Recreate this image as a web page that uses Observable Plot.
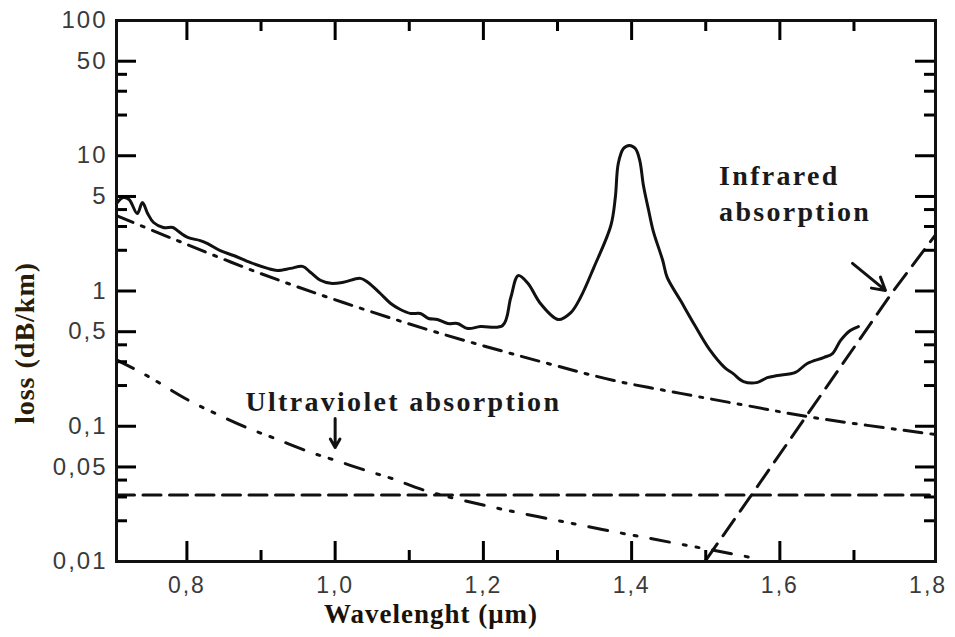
<!DOCTYPE html>
<html><head><meta charset="utf-8">
<script src="https://cdn.jsdelivr.net/npm/d3@7"></script>
<script src="https://cdn.jsdelivr.net/npm/@observablehq/plot@0.6"></script>
<style>html,body{margin:0;padding:0;background:#fff;}</style>
</head><body><div id="chart"></div>
<script>
// ---- data ----
const totalWl = [0.705,0.714,0.722,0.733,0.740,0.747,0.755,0.768,0.781,0.787,0.801,0.818,0.828,0.845,0.863,0.886,0.909,0.922,0.940,0.956,0.967,0.980,0.994,1.011,1.034,1.044,1.061,1.075,1.088,1.102,1.115,1.126,1.138,1.152,1.165,1.179,1.196,1.226,1.237,1.247,1.260,1.277,1.301,1.318,1.331,1.349,1.372,1.378,1.382,1.389,1.397,1.405,1.411,1.416,1.423,1.429,1.442,1.448,1.466,1.485,1.505,1.526,1.537,1.551,1.570,1.583,1.597,1.621,1.637,1.659,1.671,1.682,1.695,1.706];
const totalLoss = [4.44,4.91,4.75,3.74,4.51,3.74,3.21,2.95,2.95,2.80,2.49,2.36,2.24,1.99,1.83,1.62,1.47,1.42,1.47,1.52,1.37,1.20,1.14,1.16,1.24,1.16,0.958,0.808,0.730,0.682,0.682,0.626,0.616,0.575,0.575,0.528,0.546,0.556,0.895,1.30,1.14,0.808,0.616,0.693,0.895,1.49,3.05,4.91,8.76,11.3,11.9,11.3,9.22,6.0,3.94,2.80,1.68,1.26,0.85,0.56,0.37,0.27,0.245,0.214,0.211,0.229,0.237,0.250,0.291,0.322,0.345,0.431,0.510,0.545];

const rayleighWl = [0.705,0.787,0.899,1.011,1.138,1.287,1.376,1.466,1.556,1.645,1.81];
const rayleighLoss = [3.61,2.36,1.35,0.822,0.493,0.291,0.218,0.175,0.142,0.116,0.0869];

const uvWl = [0.705,0.744,0.801,0.836,0.882,0.917,0.964,1.000,1.042,1.077,1.125,1.209,1.250,1.296,1.337,1.384,1.425,1.470,1.514,1.569];
const uvLoss = [0.31,0.24,0.157,0.126,0.097,0.082,0.065,0.056,0.047,0.041,0.033,0.0255,0.0228,0.0203,0.0183,0.0163,0.0148,0.0133,0.0120,0.0105];

const irWl = [1.5,1.558,1.610,1.753,1.81];
const irLoss = [0.0102,0.029,0.0746,1.0,2.6];

const imperfWl = [0.705,1.81];
const imperfLoss = [0.031,0.031];

const xLabelTicks = [0.8,1.0,1.2,1.4,1.6,1.8];
const xMajorTicks = [0.8,1.0,1.2,1.4,1.6];
const xMinorTicks = [0.9,1.1,1.3,1.5,1.7];
const yLabelTicks = [100,50,10,5,1,0.5,0.1,0.05,0.01];
const yMajorTicks = [50,10,5,1,0.5,0.1,0.05];
const yMinorTicks = [40,30,20,4,3,2,0.4,0.3,0.2,0.04,0.03,0.02];

const annotText = ["Ultraviolet absorption","Infrared","absorption"];
const annotX = [0.879,1.518,1.518];
const annotY = [0.1307,6.03,3.32];

const arrowX1 = [1.0,1.698];
const arrowY1 = [0.114,1.60];
const arrowX2 = [1.0,1.7425];
const arrowY2 = [0.0697,1.01];

const xTitle = "Wavelenght (μm)";
const yTitle = "loss (dB/km)";

// ---- layout ----
const W = 955, H = 637, ML = 116, MR = 20, MT = 20, MB = 76;
const PW = W - ML - MR, PH = H - MT - MB;
const MAJ = 20, MIN = 11;
const ink = "#111";
const tickInk = "black";
const serif = "'Liberation Serif','Times New Roman',serif";

const zip = (xs, ys) => xs.map((x, i) => ({x, y: ys[i]}));
const total = zip(totalWl, totalLoss);
const rayleigh = zip(rayleighWl, rayleighLoss);
const uv = zip(uvWl, uvLoss);
const ir = zip(irWl, irLoss);
const imperf = zip(imperfWl, imperfLoss);
const annots = annotText.map((t, i) => ({t, x: annotX[i], y: annotY[i]}));
const arrows = arrowX1.map((x1, i) => ({x1, y1: arrowY1[i], x2: arrowX2[i], y2: arrowY2[i]}));

const plot = Plot.plot({
  width: W, height: H,
  marginLeft: ML, marginRight: MR, marginTop: MT, marginBottom: MB,
  style: {fontFamily: "'Liberation Sans', Arial, sans-serif", background: "#fff", overflow: "visible"},
  x: {domain: [0.705, 1.81], axis: null},
  y: {type: "log", domain: [0.01, 100], axis: null},
  marks: [
    Plot.line(imperf, {x: "x", y: "y", stroke: ink, strokeWidth: 3, strokeDasharray: "18,8.5"}),
    Plot.line(rayleigh, {x: "x", y: "y", stroke: ink, strokeWidth: 3, strokeDasharray: "18,9,3,9", curve: "catmull-rom"}),
    Plot.line(uv, {x: "x", y: "y", stroke: ink, strokeWidth: 3, strokeDasharray: "19,14,3,10,3,14", curve: "catmull-rom"}),
    Plot.line(ir, {x: "x", y: "y", stroke: ink, strokeWidth: 3, strokeDasharray: "20,10"}),
    Plot.line(total, {x: "x", y: "y", stroke: ink, strokeWidth: 3, curve: "catmull-rom"}),
    // inward ticks on all four sides
    Plot.ruleX(xMajorTicks, {x: d => d, insetTop: PH - MAJ, stroke: tickInk, strokeWidth: 3}),
    Plot.ruleX(xMinorTicks, {x: d => d, insetTop: PH - MIN, stroke: tickInk, strokeWidth: 3}),
    Plot.ruleX(xMajorTicks, {x: d => d, insetBottom: PH - MAJ, stroke: tickInk, strokeWidth: 3}),
    Plot.ruleX(xMinorTicks, {x: d => d, insetBottom: PH - MIN, stroke: tickInk, strokeWidth: 3}),
    Plot.ruleY(yMajorTicks, {y: d => d, insetRight: PW - MAJ, stroke: tickInk, strokeWidth: 3}),
    Plot.ruleY(yMinorTicks, {y: d => d, insetRight: PW - MIN, stroke: tickInk, strokeWidth: 3}),
    Plot.ruleY(yMajorTicks, {y: d => d, insetLeft: PW - MAJ, stroke: tickInk, strokeWidth: 3}),
    Plot.ruleY(yMinorTicks, {y: d => d, insetLeft: PW - MIN, stroke: tickInk, strokeWidth: 3}),
    Plot.frame({stroke: ink, strokeWidth: 3}),
    // tick labels
    Plot.text(xLabelTicks, {x: d => d, text: d => d.toFixed(1).replace(".", ","), frameAnchor: "bottom",
      lineAnchor: "top", dy: 15, fontSize: 23, fill: "#3a3a3a"}),
    Plot.text(yLabelTicks, {y: d => d, text: d => String(d).replace(".", ","), frameAnchor: "left",
      textAnchor: "end", lineAnchor: "middle", dx: -9, fontSize: 24, fill: "#3a3a3a"}),
    // annotations
    Plot.text(annots, {x: "x", y: "y", text: "t", textAnchor: "start", lineAnchor: "bottom",
      fontFamily: serif, fontWeight: "bold", fontSize: 28, fill: "#1a1a1a"}),
    Plot.arrow(arrows, {x1: "x1", y1: "y1", x2: "x2", y2: "y2", stroke: ink, strokeWidth: 3, headLength: 10}),
    // axis titles
    Plot.text([xTitle], {text: d => d, frameAnchor: "bottom", textAnchor: "middle", lineAnchor: "bottom",
      dx: -95, dy: 61, fontFamily: serif, fontWeight: "bold", fontSize: 27, fill: "#1a1208"}),
    Plot.text([yTitle], {text: d => d, frameAnchor: "left", textAnchor: "middle", lineAnchor: "middle", rotate: -90,
      dx: -91, dy: 52, fontFamily: serif, fontWeight: "bold", fontSize: 28, fill: "#2a1c08"})
  ]
});
document.getElementById("chart").append(plot);
d3.select(plot).selectAll('g[aria-label="text"] text').each(function() {
  const s = this.textContent;
  let ls = 1;
  if (/^[0-9,]+$/.test(s)) ls = 2;
  else if (/absorption|Infrared/.test(s)) ls = 2.3;
  this.setAttribute("letter-spacing", ls);
});
</script>
</body></html>
